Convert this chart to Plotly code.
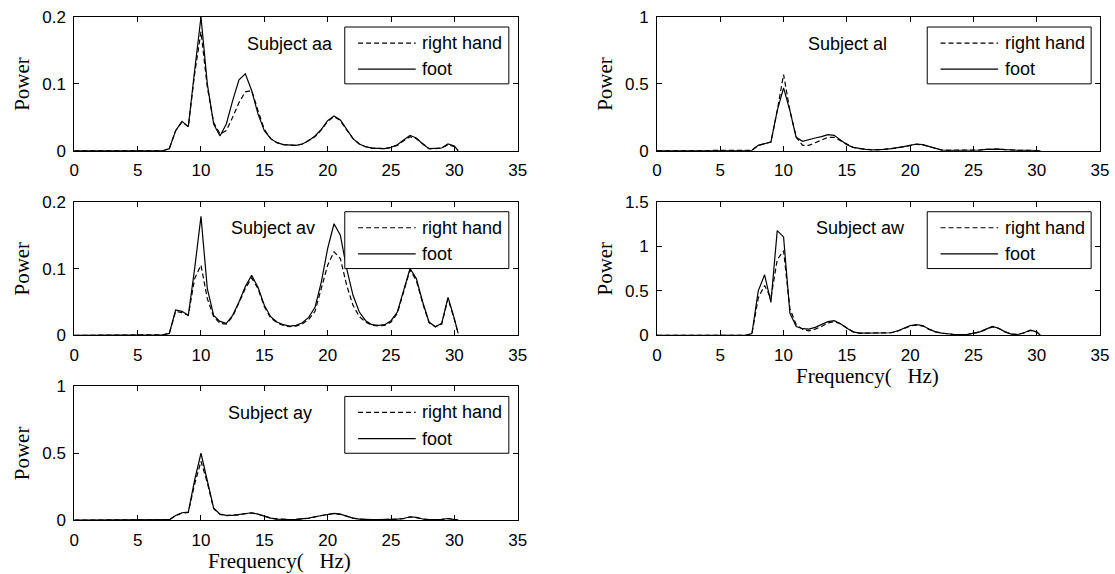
import plotly.graph_objects as go

# ---------------- data ----------------
freq = [0, 7, 7.5, 8, 8.5, 9, 9.5, 10, 10.5, 11, 11.5, 12, 12.5, 13, 13.5, 14, 14.5,
        15, 15.5, 16, 16.5, 17, 17.5, 18, 18.5, 19, 19.5, 20, 20.5, 21, 21.5, 22, 22.5,
        23, 23.5, 24, 24.5, 25, 25.5, 26, 26.5, 27, 27.5, 28, 28.5, 29, 29.5, 30, 30.3]

aa_foot = [0, 0, 0.003, 0.03, 0.044, 0.036, 0.12, 0.2, 0.1, 0.04, 0.022, 0.04, 0.075, 0.106,
           0.115, 0.09, 0.055, 0.03, 0.018, 0.012, 0.009, 0.008, 0.008, 0.01, 0.015, 0.022,
           0.032, 0.045, 0.052, 0.046, 0.032, 0.018, 0.01, 0.006, 0.004, 0.003, 0.003, 0.005,
           0.009, 0.016, 0.023, 0.019, 0.01, 0.003, 0.003, 0.004, 0.01, 0.007, 0]
aa_right = [0, 0, 0.003, 0.03, 0.043, 0.036, 0.115, 0.178, 0.095, 0.042, 0.025, 0.03, 0.05, 0.072,
            0.088, 0.09, 0.06, 0.032, 0.018, 0.012, 0.009, 0.008, 0.008, 0.01, 0.015, 0.021,
            0.031, 0.044, 0.051, 0.045, 0.031, 0.018, 0.01, 0.006, 0.004, 0.003, 0.003, 0.005,
            0.008, 0.015, 0.021, 0.018, 0.01, 0.003, 0.003, 0.004, 0.009, 0.006, 0]

av_foot = [0, 0.001, 0.003, 0.038, 0.036, 0.03, 0.1, 0.178, 0.07, 0.03, 0.021, 0.018, 0.03, 0.05,
           0.073, 0.09, 0.072, 0.045, 0.028, 0.02, 0.016, 0.014, 0.015, 0.019, 0.027, 0.042,
           0.08, 0.13, 0.167, 0.15, 0.1, 0.06, 0.035, 0.022, 0.016, 0.015, 0.016, 0.022,
           0.035, 0.068, 0.1, 0.085, 0.05, 0.02, 0.013, 0.018, 0.057, 0.025, 0.003]
av_right = [0, 0.001, 0.003, 0.036, 0.034, 0.03, 0.085, 0.105, 0.055, 0.028, 0.018, 0.017, 0.028, 0.048,
            0.07, 0.086, 0.07, 0.043, 0.026, 0.019, 0.015, 0.013, 0.014, 0.017, 0.024, 0.036,
            0.07, 0.105, 0.125, 0.115, 0.075, 0.045, 0.028, 0.02, 0.015, 0.014, 0.015, 0.02,
            0.033, 0.065, 0.098, 0.082, 0.048, 0.019, 0.013, 0.017, 0.055, 0.024, 0.003]

ay_foot = [0, 0, 0.003, 0.035, 0.055, 0.06, 0.3, 0.5, 0.3, 0.09, 0.045, 0.035, 0.035, 0.04,
           0.05, 0.055, 0.045, 0.03, 0.015, 0.008, 0.005, 0.004, 0.005, 0.008, 0.015, 0.025,
           0.035, 0.045, 0.05, 0.045, 0.03, 0.015, 0.007, 0.003, 0.003, 0.003, 0.003, 0.004,
           0.007, 0.012, 0.025, 0.02, 0.008, 0.003, 0.003, 0.005, 0.012, 0.005, 0]
ay_right = [0, 0, 0.003, 0.033, 0.052, 0.058, 0.27, 0.44, 0.28, 0.085, 0.043, 0.034, 0.034, 0.039,
            0.048, 0.053, 0.044, 0.029, 0.015, 0.008, 0.005, 0.004, 0.005, 0.008, 0.014, 0.024,
            0.034, 0.043, 0.048, 0.043, 0.029, 0.015, 0.007, 0.003, 0.003, 0.003, 0.003, 0.004,
            0.007, 0.011, 0.023, 0.019, 0.008, 0.003, 0.003, 0.005, 0.011, 0.005, 0]

al_foot = [0, 0, 0.003, 0.04, 0.055, 0.065, 0.3, 0.47, 0.3, 0.1, 0.07, 0.085, 0.095, 0.105,
           0.12, 0.115, 0.08, 0.045, 0.025, 0.015, 0.01, 0.006, 0.006, 0.01, 0.015, 0.02,
           0.03, 0.04, 0.05, 0.045, 0.03, 0.015, 0.005, 0.003, 0.003, 0.003, 0.003, 0.003,
           0.005, 0.01, 0.012, 0.012, 0.008, 0.003, 0.003, 0.003, 0.003, 0.003, 0]
al_right = [0, 0, 0.003, 0.04, 0.055, 0.065, 0.3, 0.57, 0.3, 0.1, 0.04, 0.04, 0.06, 0.08,
            0.1, 0.1, 0.075, 0.045, 0.025, 0.015, 0.01, 0.006, 0.006, 0.01, 0.015, 0.02,
            0.03, 0.04, 0.048, 0.043, 0.03, 0.015, 0.005, 0.003, 0.003, 0.003, 0.003, 0.003,
            0.005, 0.01, 0.012, 0.012, 0.008, 0.003, 0.003, 0.003, 0.003, 0.003, 0]

aw_foot = [0, 0, 0.02, 0.5, 0.68, 0.37, 1.175, 1.105, 0.25, 0.1, 0.075, 0.07, 0.09, 0.12,
           0.155, 0.165, 0.13, 0.08, 0.04, 0.025, 0.025, 0.025, 0.025, 0.025, 0.03, 0.05,
           0.08, 0.11, 0.12, 0.11, 0.07, 0.04, 0.025, 0.015, 0.01, 0.01, 0.01, 0.025,
           0.04, 0.07, 0.1, 0.08, 0.04, 0.015, 0.01, 0.03, 0.06, 0.04, 0]
aw_right = [0, 0, 0.02, 0.42, 0.56, 0.42, 0.85, 0.95, 0.3, 0.12, 0.07, 0.05, 0.07, 0.1,
            0.14, 0.155, 0.13, 0.08, 0.04, 0.025, 0.025, 0.025, 0.025, 0.025, 0.03, 0.048,
            0.078, 0.105, 0.115, 0.105, 0.068, 0.04, 0.025, 0.015, 0.01, 0.01, 0.01, 0.024,
            0.038, 0.068, 0.095, 0.078, 0.04, 0.015, 0.01, 0.028, 0.055, 0.038, 0]

x_ticks = [0, 5, 10, 15, 20, 25, 30, 35]
subjects = ["Subject aa", "Subject av", "Subject ay", "Subject al", "Subject aw"]
y_max = [0.2, 0.2, 1, 1, 1.5]
y_tick_vals = [[0, 0.1, 0.2], [0, 0.1, 0.2], [0, 0.5, 1], [0, 0.5, 1], [0, 0.5, 1, 1.5]]
y_tick_text = [["0", "0.1", "0.2"], ["0", "0.1", "0.2"], ["0", "0.5", "1"], ["0", "0.5", "1"],
               ["0", "0.5", "1", "1.5"]]
foot_series = [aa_foot, av_foot, ay_foot, al_foot, aw_foot]
right_series = [aa_right, av_right, ay_right, al_right, aw_right]
legend_labels = ["right hand", "foot"]
x_title = "Frequency(   Hz)"
y_title = "Power"

# ---------------- layout geometry ----------------
W, H = 1115, 574
col_px = [(74.3, 517.7), (657.0, 1100.0)]
row_px = [(17.0, 150.7), (201.7, 335.4), (386.4, 520.1)]
panel_pos = [(0, 0), (0, 1), (0, 2), (1, 0), (1, 1)]   # (col,row)
subject_x = [0.487, 0.448, 0.442, 0.43, 0.459]
show_xtitle = [False, False, True, False, True]

TICK_FONT = dict(family="Liberation Sans, Arial, sans-serif", size=17, color="black")
TEXT_FONT = dict(family="Liberation Sans, Arial, sans-serif", size=18, color="black")
TITLE_FONT = dict(family="Liberation Serif, Times New Roman, serif", size=21, color="black")
DASH = "5px,3px"

fig = go.Figure()
layout = dict(width=W, height=H, autosize=False,
              margin=dict(l=0, r=0, t=0, b=0, pad=0, autoexpand=False),
              paper_bgcolor="white", plot_bgcolor="white", showlegend=False)
shapes, annotations = [], []

for k in range(5):
    n = k + 1
    xa = "x" if n == 1 else f"x{n}"
    ya = "y" if n == 1 else f"y{n}"
    xkey = "xaxis" if n == 1 else f"xaxis{n}"
    ykey = "yaxis" if n == 1 else f"yaxis{n}"
    c, r = panel_pos[k]
    x0p, x1p = col_px[c]
    y0p, y1p = row_px[r]

    fig.add_trace(go.Scatter(x=freq, y=right_series[k], mode="lines", xaxis=xa, yaxis=ya,
                             line=dict(color="black", width=1.2, dash=DASH),
                             name=legend_labels[0], hoverinfo="skip"))
    fig.add_trace(go.Scatter(x=freq, y=foot_series[k], mode="lines", xaxis=xa, yaxis=ya,
                             line=dict(color="black", width=1.2),
                             name=legend_labels[1], hoverinfo="skip"))

    common = dict(showline=True, linecolor="black", linewidth=1, mirror="allticks",
                  ticks="inside", ticklen=5, tickwidth=1, tickcolor="black", automargin=False,
                  showgrid=False, zeroline=False, tickfont=TICK_FONT, fixedrange=True)
    layout[xkey] = dict(domain=[x0p / W, x1p / W], range=[0, 35], anchor=ya,
                        tickvals=x_ticks, ticktext=[str(t) for t in x_ticks],
                        ticklabelstandoff=4, **common)
    layout[ykey] = dict(domain=[1 - y1p / H, 1 - y0p / H], range=[0, y_max[k]], anchor=xa,
                        tickvals=y_tick_vals[k], ticktext=y_tick_text[k],
                        ticklabelstandoff=4, **common)

    xd, yd = f"{xa} domain", f"{ya} domain"
    # legend box
    shapes.append(dict(type="rect", xref=xd, yref=yd, x0=0.61, x1=0.98, y0=0.5, y1=0.925,
                       line=dict(color="black", width=1), fillcolor="white", layer="above"))
    shapes.append(dict(type="line", xref=xd, yref=yd, x0=0.64, x1=0.77, y0=0.805, y1=0.805,
                       line=dict(color="black", width=1.2, dash=DASH), layer="above"))
    shapes.append(dict(type="line", xref=xd, yref=yd, x0=0.64, x1=0.77, y0=0.61, y1=0.61,
                       line=dict(color="black", width=1.2), layer="above"))
    for lbl, yy in zip(legend_labels, [0.805, 0.61]):
        annotations.append(dict(text=lbl, xref=xd, yref=yd, x=0.78, y=yy, xanchor="left",
                                yanchor="middle", showarrow=False, font=TEXT_FONT))
    annotations.append(dict(text=subjects[k], xref=xd, yref=yd, x=subject_x[k], y=0.8,
                            xanchor="center", yanchor="middle", showarrow=False, font=TEXT_FONT))
    # axis titles
    ytx = 22 if c == 0 else 605
    annotations.append(dict(text=y_title, xref="paper", yref="paper", x=ytx / W,
                            y=1 - (y0p + y1p) / 2 / H, xanchor="center", yanchor="middle",
                            textangle=-90, showarrow=False, font=TITLE_FONT))
    if show_xtitle[k]:
        xtx = 279 if c == 0 else 867
        annotations.append(dict(text=x_title, xref="paper", yref="paper", x=xtx / W,
                                y=1 - (y1p + 41) / H, xanchor="center", yanchor="middle",
                                showarrow=False, font=TITLE_FONT))

layout["shapes"] = shapes
layout["annotations"] = annotations
fig.update_layout(**layout)
fig.write_html("out.html", config={"responsive": False, "displayModeBar": False},
               post_script="document.body.style.margin='0px';")
